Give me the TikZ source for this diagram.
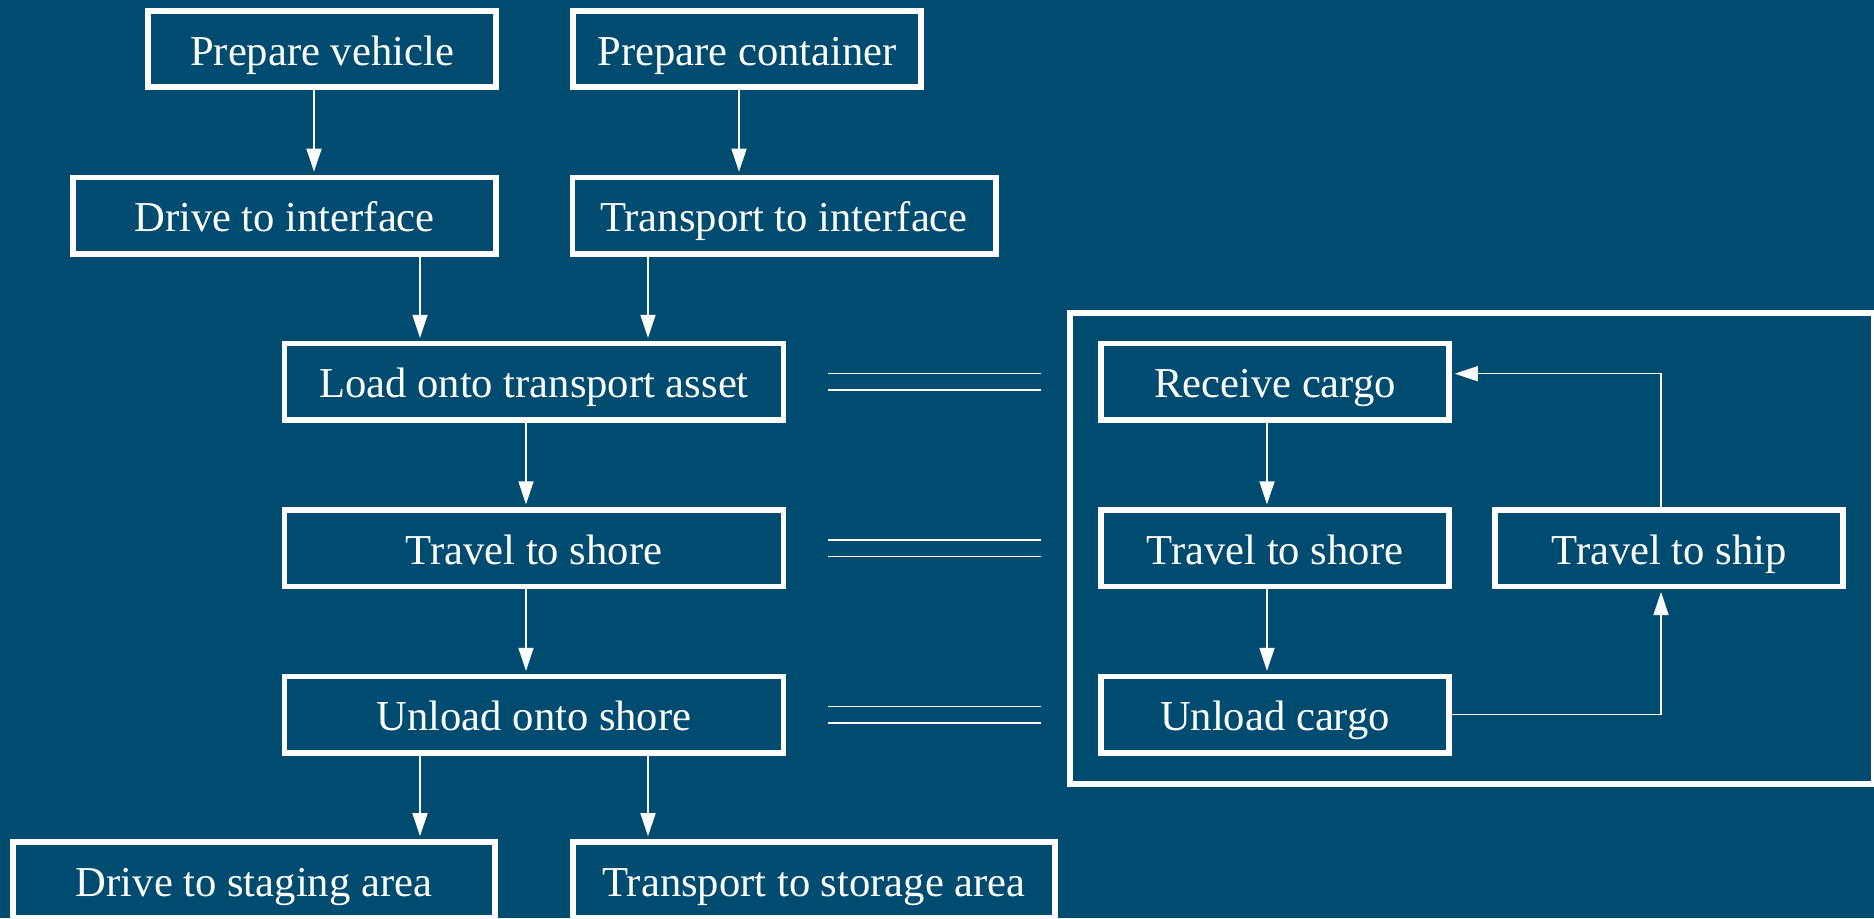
\documentclass[tikz,border=0pt]{standalone}
\usepackage{fontspec}
\setmainfont{Liberation Serif}
\usetikzlibrary{arrows.meta,positioning,fit}
\definecolor{bgblue}{RGB}{0,75,112}
\newcommand{\taskfont}{\fontsize{21.3pt}{25pt}\selectfont}

\begin{document}
\begin{tikzpicture}[x=0.5pt,y=-0.5pt,->,>={Triangle[length=11.5pt,width=7.5pt]},
    shorten >=1.4pt,white,line width=0.7pt,node distance=83.25pt,
    task/.style={draw,line width=2.8pt,inner sep=0pt,minimum height=38.2pt,
      text height=16pt,text depth=0pt,font=\taskfont},
    narrow/.style={task,minimum width=174.2pt},
    medium/.style={task,minimum width=211.7pt},
    bottomw/.style={task,minimum width=241.2pt},
    wide/.style={task,minimum width=249.5pt},
    group/.style={draw,line width=2.8pt,inner sep=14pt},
    link/.style={-,shorten >=0pt,double=bgblue,double distance=7.4pt}]

\fill[bgblue] (0,0) rectangle (1874,918);
\useasboundingbox (0,0) rectangle (1874,918);

\node[narrow] (pv)  at (322,49)      {Prepare vehicle};
\node[narrow] (pc)  at (747,49)      {Prepare container};
\node[medium] (di)  at (284.5,215.5) {Drive to interface};
\node[medium] (ti)  at (784,215.5)   {Transport to interface};

\node[wide]   (load) at (534,381.7)  {Load onto transport asset};
\node[wide]   (tsl)  [below of=load] {Travel to shore};
\node[wide]   (uos)  [below of=tsl]  {Unload onto shore};

\node[bottomw] (dsa) at (254,880)    {Drive to staging area};
\node[bottomw] (tsa) at (814,880)    {Transport to storage area};

\node[narrow] (rc)  at (1275,381.7)  {Receive cargo};
\node[narrow] (trs) [below of=rc]    {Travel to shore};
\node[narrow] (uc)  [below of=trs]   {Unload cargo};
\node[narrow] (tts) at (1669,548.2)  {Travel to ship};

\node[group, fit=(rc)(tts)(uc)] (grp) {};

\path ([xshift=-4pt]pv.south) edge ([xshift=-4pt]pv.south |- di.north);
\path ([xshift=-4pt]pc.south) edge ([xshift=-4pt]pc.south |- ti.north);
\path ([xshift=-57pt]load.north |- di.south) edge ([xshift=-57pt]load.north);
\path ([xshift=57pt]load.north |- ti.south) edge ([xshift=57pt]load.north);
\path ([xshift=-4pt]load.south) edge ([xshift=-4pt]tsl.north);
\path ([xshift=-4pt]tsl.south) edge ([xshift=-4pt]uos.north);
\path ([xshift=-57pt]uos.south) edge ([xshift=-57pt]uos.south |- dsa.north);
\path ([xshift=57pt]uos.south) edge ([xshift=57pt]uos.south |- tsa.north);

\path ([xshift=-4pt]rc.south) edge ([xshift=-4pt]trs.north);
\path ([xshift=-4pt]trs.south) edge ([xshift=-4pt]uc.north);
\draw (uc.east) -| ([xshift=-4pt]tts.south);
\draw ([xshift=-4pt]tts.north) |- ([yshift=4pt]rc.east);

\draw[link] ([xshift=21pt]load.east) -- ([xshift=-28.5pt]load.east -| rc.west);
\draw[link] ([xshift=21pt]tsl.east) -- ([xshift=-28.5pt]tsl.east -| trs.west);
\draw[link] ([xshift=21pt]uos.east) -- ([xshift=-28.5pt]uos.east -| uc.west);

\end{tikzpicture}
\end{document}
